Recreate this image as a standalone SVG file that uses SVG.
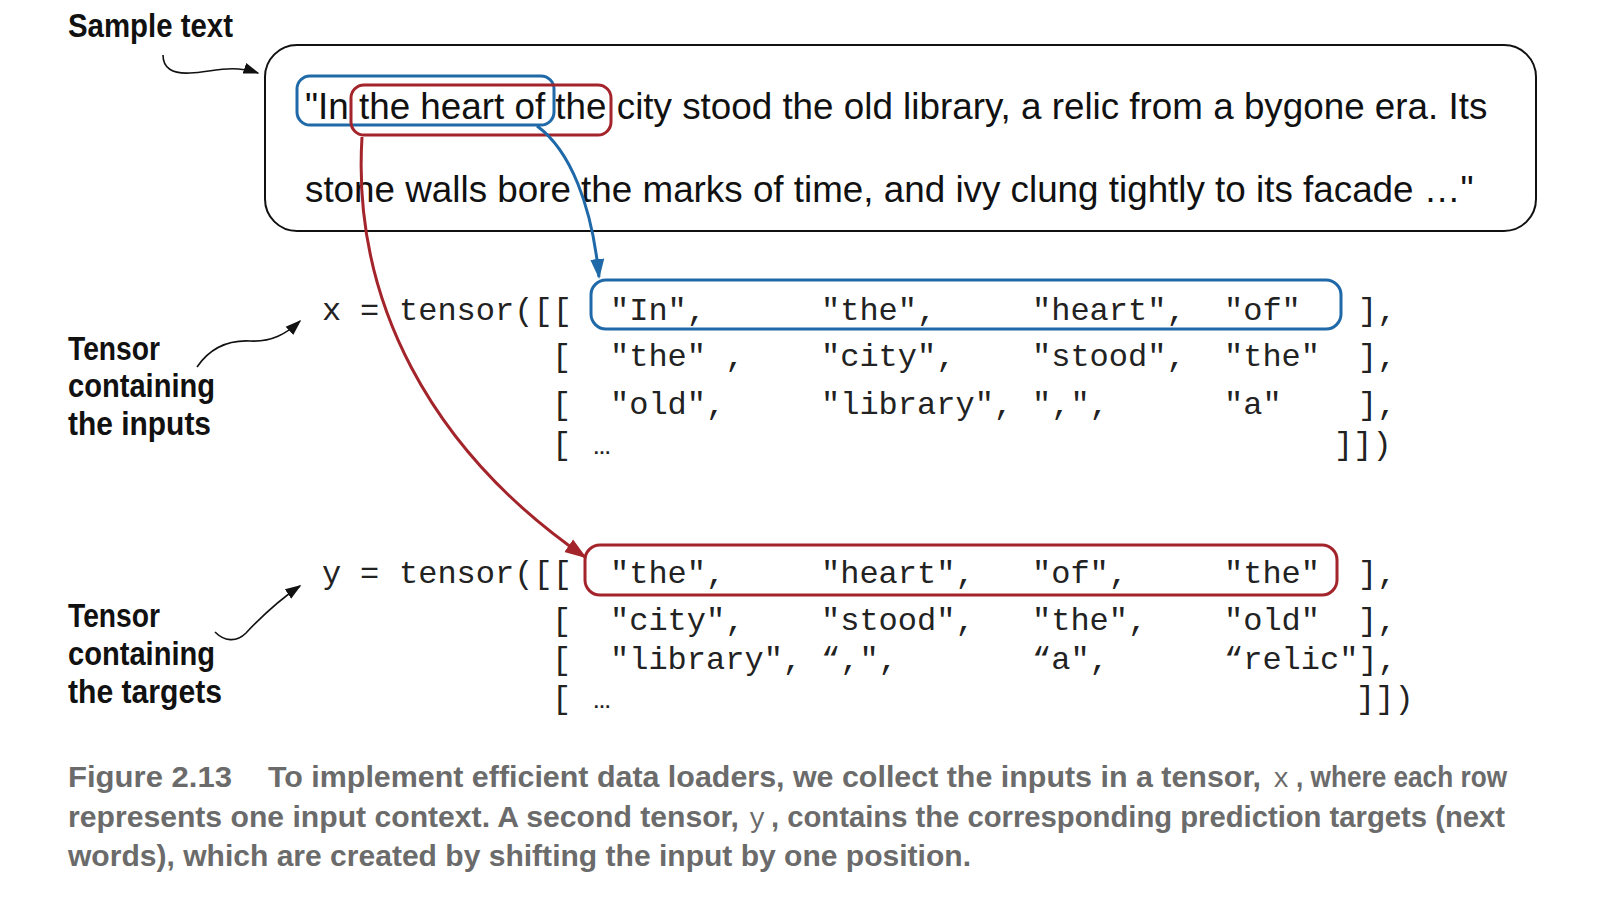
<svg xmlns="http://www.w3.org/2000/svg" width="1600" height="921" viewBox="0 0 1600 921">
<style>
.lbl{font-family:"Liberation Sans",Arial,sans-serif;font-weight:bold;font-size:33px;fill:#111}
.main{font-family:"Liberation Sans",Arial,sans-serif;font-size:36.8px;fill:#111}
.mono{font-family:"Liberation Mono","Courier New",monospace;font-size:32px;fill:#222}
.ell{font-family:"Liberation Sans",Arial,sans-serif;font-weight:bold;font-size:18px;fill:#222}
.cap{font-family:"Liberation Sans",Arial,sans-serif;font-weight:bold;font-size:30px;fill:#6b6b6b}
.capm{font-family:"Liberation Mono","Courier New",monospace;font-size:27px;fill:#6b6b6b}
.blk{fill:none;stroke:#111;stroke-width:1.6}
.blue{fill:none;stroke:#1f69a8;stroke-width:3}
.red{fill:none;stroke:#a3242a;stroke-width:3}
</style>
<defs>
<marker id="ab" viewBox="0 0 10 10" refX="9" refY="5" markerWidth="16" markerHeight="16" orient="auto" markerUnits="userSpaceOnUse">
<path d="M0,1.5 L10,5 L0,8.5 z" fill="#111"/>
</marker>
<marker id="abl" viewBox="0 0 10 10" refX="9" refY="5" markerWidth="20" markerHeight="20" orient="auto" markerUnits="userSpaceOnUse">
<path d="M0,1.5 L10,5 L0,8.5 z" fill="#1f69a8"/>
</marker>
<marker id="ard" viewBox="0 0 10 10" refX="9" refY="5" markerWidth="22" markerHeight="22" orient="auto" markerUnits="userSpaceOnUse">
<path d="M0,1.5 L10,5 L0,8.5 z" fill="#a3242a"/>
</marker>
</defs>
<rect width="1600" height="921" fill="#fff"/>

<g id="sample-label">
<text class="lbl" x="68" y="37" textLength="165" lengthAdjust="spacingAndGlyphs">Sample text</text>
</g>
<g id="inputs-label">
<text class="lbl" x="68" y="360" textLength="92" lengthAdjust="spacingAndGlyphs">Tensor</text>
<text class="lbl" x="68" y="397" textLength="147" lengthAdjust="spacingAndGlyphs">containing</text>
<text class="lbl" x="68" y="435" textLength="143" lengthAdjust="spacingAndGlyphs">the inputs</text>
</g>
<g id="targets-label">
<text class="lbl" x="68" y="627" textLength="92" lengthAdjust="spacingAndGlyphs">Tensor</text>
<text class="lbl" x="68" y="665" textLength="147" lengthAdjust="spacingAndGlyphs">containing</text>
<text class="lbl" x="68" y="703" textLength="154" lengthAdjust="spacingAndGlyphs">the targets</text>
</g>

<g id="sample-box">
<rect x="265" y="45" width="1271" height="186" rx="32" fill="none" stroke="#111" stroke-width="2"/>
<text class="main" x="305" y="119">"In the heart of the city stood the old library, a relic from a bygone era. Its</text>
<text class="main" x="305" y="202">stone walls bore the marks of time, and ivy clung tightly to its facade …"</text>
<rect x="297" y="76" width="257" height="49" rx="13" class="blue"/>
<rect x="351" y="85" width="260" height="50" rx="13" class="red"/>
</g>

<g id="x-tensor" class="mono">
<text x="322" y="320">x</text>
<text x="360" y="320">=</text>
<text x="399" y="320">tensor([[</text>
<text x="610" y="320">"In",</text>
<text x="821" y="320">"the",</text>
<text x="1032" y="320">"heart",</text>
<text x="1224" y="320">"of"</text>
<text x="1358" y="320">],</text>
<text x="552" y="366">[</text>
<text x="610" y="366">"the" ,</text>
<text x="821" y="366">"city",</text>
<text x="1032" y="366">"stood",</text>
<text x="1224" y="366">"the"</text>
<text x="1358" y="366">],</text>
<text x="552" y="414">[</text>
<text x="610" y="414">"old",</text>
<text x="821" y="414">"library",</text>
<text x="1032" y="414">",",</text>
<text x="1224" y="414">"a"</text>
<text x="1358" y="414">],</text>
<text x="552" y="454">[</text>
<text class="ell" x="593" y="454">…</text>
<text x="1334" y="454">]])</text>
<rect x="591" y="280" width="750" height="49" rx="15" class="blue"/>
</g>

<g id="y-tensor" class="mono">
<text x="322" y="583">y</text>
<text x="360" y="583">=</text>
<text x="399" y="583">tensor([[</text>
<text x="610" y="583">"the",</text>
<text x="821" y="583">"heart",</text>
<text x="1032" y="583">"of",</text>
<text x="1224" y="583">"the"</text>
<text x="1358" y="583">],</text>
<text x="552" y="630">[</text>
<text x="610" y="630">"city",</text>
<text x="821" y="630">"stood",</text>
<text x="1032" y="630">"the",</text>
<text x="1224" y="630">"old"</text>
<text x="1358" y="630">],</text>
<text x="552" y="669">[</text>
<text x="610" y="669">"library",</text>
<text x="821" y="669">“,",</text>
<text x="1032" y="669">“a",</text>
<text x="1224" y="669">“relic"],</text>
<text x="552" y="708">[</text>
<text class="ell" x="593" y="708">…</text>
<text x="1356" y="708">]])</text>
<rect x="585" y="545" width="752" height="50" rx="15" class="red"/>
</g>

<g id="connectors">
<path class="blk" d="M163,55 C163,68 172,74 190,73 C212,72 232,64 258,73" marker-end="url(#ab)"/>
<path class="blk" d="M197,367 C210,348 228,340 250,341 C272,342 286,334 300,321" marker-end="url(#ab)"/>
<path class="blk" d="M215,632 C224,641 236,643 246,633 C262,616 282,598 300,586" marker-end="url(#ab)"/>
<path class="blue" d="M537,126 C570,150 592,205 599,277" marker-end="url(#abl)"/>
<path class="red" d="M362,137 C352,300 430,450 585,557" marker-end="url(#ard)"/>
</g>

<g id="caption">
<text class="cap" x="68" y="787" textLength="164" lengthAdjust="spacingAndGlyphs">Figure 2.13</text>
<text class="cap" x="268" y="787" textLength="993" lengthAdjust="spacingAndGlyphs">To implement efficient data loaders, we collect the inputs in a tensor,</text>
<text class="capm" x="1273" y="787">x</text>
<text class="cap" x="1296" y="787" textLength="211" lengthAdjust="spacingAndGlyphs">, where each row</text>
<text class="cap" x="68" y="827" textLength="671" lengthAdjust="spacingAndGlyphs" style="font-size:29.8px">represents one input context. A second tensor,</text>
<text class="capm" x="749" y="827">y</text>
<text class="cap" x="771" y="827" textLength="734" lengthAdjust="spacingAndGlyphs">, contains the corresponding prediction targets (next</text>
<text class="cap" x="68" y="866" textLength="903" lengthAdjust="spacingAndGlyphs">words), which are created by shifting the input by one position.</text>
</g>
</svg>
